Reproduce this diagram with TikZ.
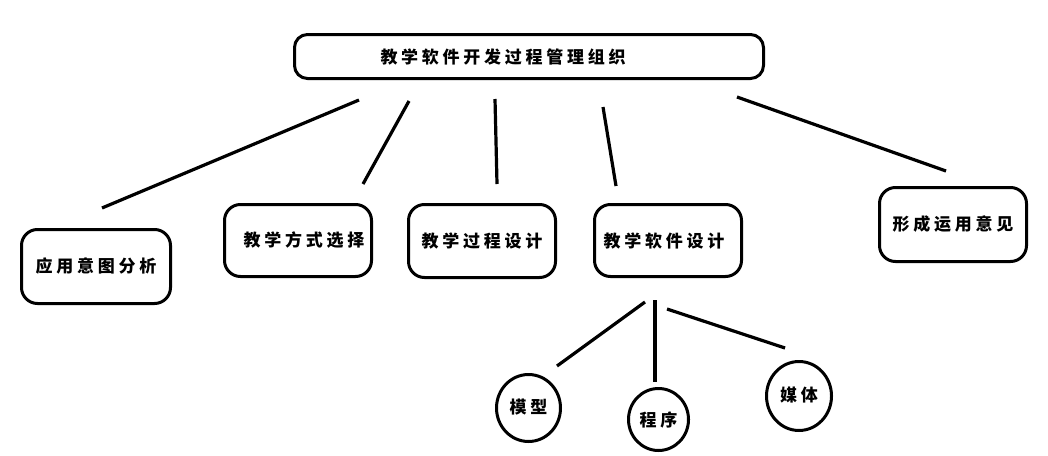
\documentclass[tikz,border=0pt]{standalone}
\usepackage{fontspec}
\usetikzlibrary{shapes.geometric}
\newfontfamily\cjk[LetterSpace=22]{Noto Sans CJK SC}
\tikzset{
  cjktext/.style={font=\cjk\bfseries\fontsize{17}{20}\selectfont},
  topbox/.style={draw, line width=3pt, rounded corners=13pt, inner sep=0pt, cjktext},
  boxnode/.style={draw, line width=3pt, rounded corners=16pt, inner sep=0pt, cjktext},
  leafnode/.style={draw, ellipse, line width=3pt, inner sep=0pt, cjktext},
  link/.style={line width=3.2pt}
}
\begin{document}
\begin{tikzpicture}[x=1pt,y=-1pt]
\useasboundingbox (0,0) rectangle (1048,455);
\fill[white] (0,0) rectangle (1048,455);
% top node
\node[topbox, minimum width=469pt, minimum height=44pt] (top) at (529,56.5)
  {\makebox[469pt][l]{\hspace*{86pt}教学软件开发过程管理组织}};
% second level
\node[boxnode, minimum width=149pt, minimum height=74pt] (a1) at (96,266.5) {应用意图分析};
\node[boxnode, minimum width=147pt, minimum height=72pt] (a2) at (298,240.5) {\hspace*{12pt}教学方式选择};
\node[boxnode, minimum width=147pt, minimum height=73pt] (a3) at (482,241) {\raisebox{-4pt}{教学过程设计}};
\node[boxnode, minimum width=147pt, minimum height=72pt] (a4) at (668,240.5) {教学软件设计\hspace*{8pt}};
\node[boxnode, minimum width=147pt, minimum height=74pt] (a5) at (953,224.5) {形成运用意见};
% leaves
\node[leafnode, minimum width=64pt, minimum height=67pt] (b1) at (528.5,408) {\raisebox{4pt}{模型}};
\node[leafnode, minimum width=60pt, minimum height=62pt] (b2) at (658.5,419.5) {程序};
\node[leafnode, minimum width=65pt, minimum height=69pt] (b3) at (799,396) {\raisebox{3pt}{媒体}};
% free connector ends
\coordinate (t1) at (359,100);   \coordinate (e1) at (102,208);
\coordinate (t2) at (409,101);   \coordinate (e2) at (363,184);
\coordinate (t3) at (495,99);    \coordinate (e3) at (497,184);
\coordinate (t4) at (603,107);   \coordinate (e4) at (616,186);
\coordinate (t5) at (737,97);    \coordinate (e5) at (946,171);
\coordinate (s1) at (645,302);   \coordinate (f1) at (557,366);
\coordinate (s2) at (655,300);   \coordinate (f2) at (655,382);
\coordinate (s3) at (667,309);   \coordinate (f3) at (785,348);
\draw[link] (t1) -- (e1);
\draw[link] (t2) -- (e2);
\draw[link] (t3) -- (e3);
\draw[link] (t4) -- (e4);
\draw[link] (t5) -- (e5);
\draw[link] (s1) -- (f1);
\draw[link] (s2) -- (f2);
\draw[link] (s3) -- (f3);
\end{tikzpicture}
\end{document}
